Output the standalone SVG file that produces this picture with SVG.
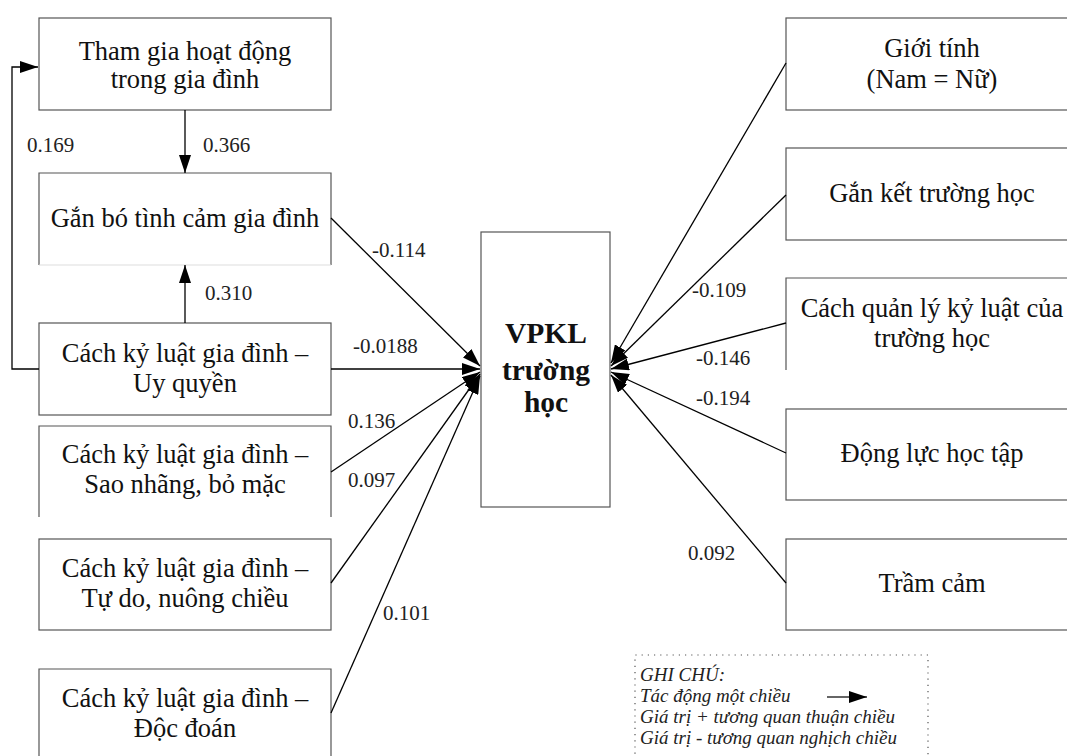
<svg xmlns="http://www.w3.org/2000/svg" width="1067" height="756" viewBox="0 0 1067 756">
<defs>
<marker id="ah" viewBox="0 0 18 12" refX="18" refY="6" markerWidth="18" markerHeight="12" markerUnits="userSpaceOnUse" orient="auto">
<path d="M0,0 L18,6 L0,12 Z" fill="#000"/>
</marker>
<style>
text{font-family:"Liberation Serif","Times New Roman",serif}
.box{fill:#fff;stroke:#555;stroke-width:1.2}
.open{fill:none;stroke:#555;stroke-width:1.2}
.t{font-size:26.5px;fill:#111;text-anchor:middle}
.c{font-size:29.5px;font-weight:bold;fill:#111;text-anchor:middle}
.lb{font-size:21px;fill:#222}
.lg{font-size:19px;font-style:italic;fill:#222}
.e{fill:none;stroke:#000;stroke-width:1.3;marker-end:url(#ah)}
</style>
</defs>
<rect width="1067" height="756" fill="#fff"/>

<g id="n-thamgia">
<rect class="box" x="39" y="18" width="292" height="92"/>
<text class="t" x="185" y="60">Tham gia hoạt động</text>
<text class="t" x="185" y="88">trong gia đình</text>
</g>
<g id="n-ganbo">
<path class="open" d="M39,265 L39,173 L331,173 L331,265"/>
<line x1="39" y1="265" x2="331" y2="265" stroke="#ddd" stroke-width="1"/>
<text class="t" x="185" y="227">Gắn bó tình cảm gia đình</text>
</g>
<g id="n-uyquyen">
<rect class="box" x="39" y="323" width="292" height="92"/>
<text class="t" x="185" y="362">Cách kỷ luật gia đình –</text>
<text class="t" x="185" y="392">Uy quyền</text>
</g>
<g id="n-saonhang">
<path class="open" d="M39,517 L39,426 L331,426 L331,517"/>
<text class="t" x="185" y="463">Cách kỷ luật gia đình –</text>
<text class="t" x="185" y="493">Sao nhãng, bỏ mặc</text>
</g>
<g id="n-tudo">
<rect class="box" x="39" y="539" width="292" height="91"/>
<text class="t" x="185" y="577">Cách kỷ luật gia đình –</text>
<text class="t" x="185" y="607">Tự do, nuông chiều</text>
</g>
<g id="n-docdoan">
<path class="open" d="M39,760 L39,669 L331,669 L331,760"/>
<text class="t" x="185" y="707">Cách kỷ luật gia đình –</text>
<text class="t" x="185" y="737">Độc đoán</text>
</g>

<g id="n-vpkl">
<rect class="box" x="481" y="232" width="129" height="275"/>
<text class="c" x="546" y="343">VPKL</text>
<text class="c" x="546" y="380">trường</text>
<text class="c" x="546" y="412">học</text>
</g>

<g id="n-gioitinh">
<rect class="box" x="786" y="18" width="300" height="92"/>
<text class="t" x="932" y="57">Giới tính</text>
<text class="t" x="932" y="88">(Nam = Nữ)</text>
</g>
<g id="n-ganket">
<rect class="box" x="786" y="148" width="300" height="92"/>
<text class="t" x="932" y="202">Gắn kết trường học</text>
</g>
<g id="n-quanly">
<path class="open" d="M786,370 L786,278 L1086,278"/>
<text class="t" x="932" y="317">Cách quản lý kỷ luật của</text>
<text class="t" x="932" y="347">trường học</text>
</g>
<g id="n-dongluc">
<rect class="box" x="786" y="409" width="300" height="91"/>
<text class="t" x="932" y="462">Động lực học tập</text>
</g>
<g id="n-tramcam">
<rect class="box" x="786" y="539" width="300" height="91"/>
<text class="t" x="932" y="592">Trầm cảm</text>
</g>

<g id="connectors">
<line class="e" x1="185" y1="110" x2="185" y2="173"/>
<line class="e" x1="185" y1="323" x2="185" y2="265"/>
<path class="e" d="M39,369 L12,369 L12,67 L38,67"/>
<line class="e" x1="331" y1="218" x2="480" y2="366"/>
<line class="e" x1="331" y1="369" x2="480" y2="369"/>
<line class="e" x1="331" y1="472" x2="480" y2="372"/>
<line class="e" x1="331" y1="583" x2="480" y2="374"/>
<line class="e" x1="331" y1="713" x2="480" y2="376"/>
<line class="e" x1="786" y1="63" x2="611" y2="363"/>
<line class="e" x1="786" y1="195" x2="611" y2="366"/>
<line class="e" x1="786" y1="323" x2="611" y2="369"/>
<line class="e" x1="786" y1="453" x2="611" y2="372"/>
<line class="e" x1="786" y1="583" x2="611" y2="375"/>
</g>

<g id="labels">
<text class="lb" x="27" y="152">0.169</text>
<text class="lb" x="203" y="152">0.366</text>
<text class="lb" x="205" y="300">0.310</text>
<text class="lb" x="372" y="257">-0.114</text>
<text class="lb" x="353" y="353">-0.0188</text>
<text class="lb" x="348" y="428">0.136</text>
<text class="lb" x="348" y="487">0.097</text>
<text class="lb" x="383" y="620">0.101</text>
<text class="lb" x="692" y="297">-0.109</text>
<text class="lb" x="696" y="365">-0.146</text>
<text class="lb" x="696" y="405">-0.194</text>
<text class="lb" x="688" y="560">0.092</text>
</g>

<g id="legend">
<path d="M635,760 L635,655 L928,655 L928,760" fill="none" stroke="#555" stroke-width="1.2" stroke-dasharray="1.2,5"/>
<text class="lg" x="640" y="681">GHI CHÚ:</text>
<text class="lg" x="640" y="702">Tác động một chiều</text>
<line x1="827" y1="697" x2="867" y2="697" stroke="#333" stroke-width="1.3" marker-end="url(#ah)"/>
<text class="lg" x="640" y="723">Giá trị + tương quan thuận chiều</text>
<text class="lg" x="640" y="744">Giá trị - tương quan nghịch chiều</text>
</g>
</svg>
